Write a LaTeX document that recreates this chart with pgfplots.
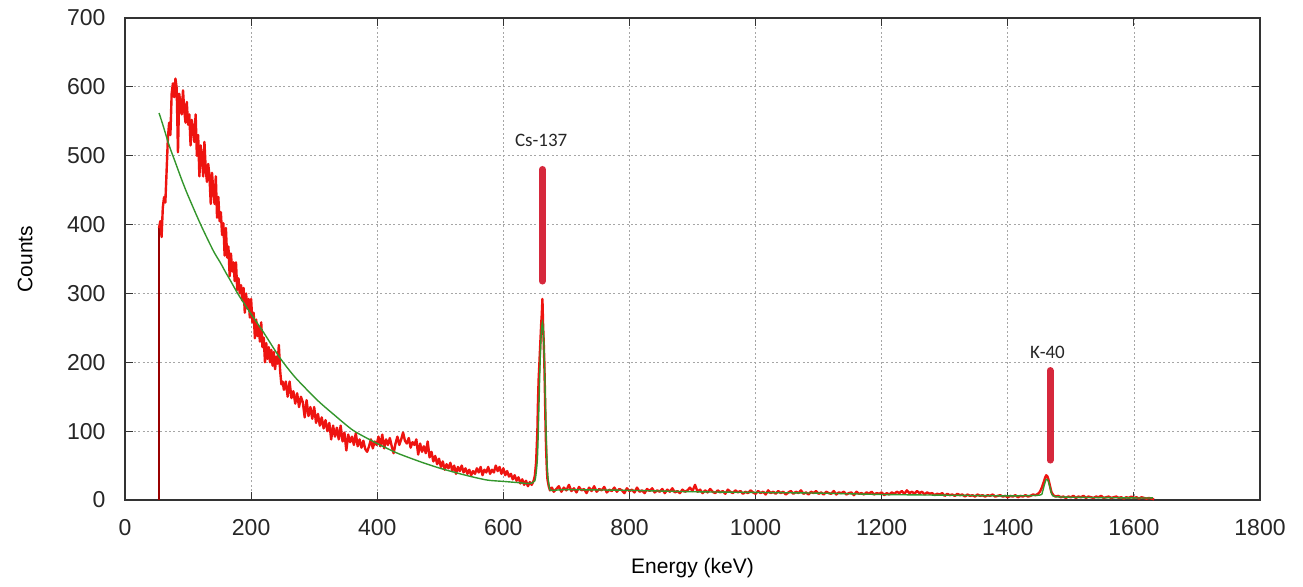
\documentclass[border=0pt]{standalone}
\usepackage{fontspec}
\setmainfont{Liberation Sans}
\newfontfamily\annfont{Carlito}
\usepackage{pgfplots}
\pgfplotsset{compat=1.18}
\usepackage{pgfplotstable}
\usetikzlibrary{calc}
\definecolor{spec}{RGB}{238,20,16}
\definecolor{fitc}{RGB}{52,150,44}
\definecolor{barc}{RGB}{214,40,60}

% measured spectrum (energy keV, counts)
\pgfplotstableread{
x y
54 395
56 405
58 382
60 425
62 440
64 432
66 478
68 525
70 548
72 530
74 590
76 605
78 585
80 612
82 598
84 505
86 590
88 575
90 560
92 595
94 565
96 548
98 578
100 545
102 560
104 515
106 552
108 538
110 520
112 560
114 500
116 530
118 470
120 515
122 498
124 470
126 520
128 480
130 462
132 488
134 470
136 430
138 475
140 450
142 430
144 470
146 410
148 440
150 405
152 418
154 385
156 402
158 355
160 395
162 352
164 368
166 325
168 358
170 332
172 345
174 318
176 345
178 305
180 322
182 300
184 312
186 290
188 308
190 272
192 300
194 278
196 292
198 265
200 292
202 258
204 272
206 235
208 262
210 238
212 252
214 230
216 258
218 222
220 236
222 200
224 228
226 205
228 222
230 200
232 218
234 195
236 215
238 190
240 208
242 198
244 225
246 188
248 168
250 172
252 160
255 172
258 150
261 172
264 148
267 158
270 140
273 155
276 135
279 150
282 142
285 120
288 145
291 122
294 135
297 118
300 135
303 112
306 125
309 108
312 120
315 104
318 116
321 100
324 112
327 88
330 108
333 92
336 105
339 88
342 108
345 85
348 98
351 72
354 95
357 84
360 92
363 80
366 97
369 78
372 88
375 76
378 86
381 74
384 70
387 78
390 88
393 75
396 85
399 80
402 92
405 78
408 95
411 75
414 88
417 80
420 90
423 78
426 68
429 82
432 92
435 80
438 88
441 98
444 86
447 82
450 90
453 76
456 84
459 80
462 88
465 66
468 82
471 70
474 78
477 68
480 85
483 62
486 70
489 56
492 64
495 52
498 60
501 48
504 56
507 44
510 52
513 46
516 54
519 42
522 50
525 38
528 48
531 42
534 50
537 40
540 46
543 38
546 44
549 36
552 42
555 38
558 46
561 40
564 48
567 36
570 44
573 40
576 48
579 38
582 44
585 40
588 50
591 42
594 48
597 38
600 46
603 36
606 42
609 34
612 38
615 30
618 36
621 28
624 33
627 24
630 30
633 22
636 28
639 20
642 26
645 22
648 28
650 35
652 55
654 100
655 145
656 175
657 195
658 215
659 235
660 255
661 270
662 292
663 255
664 230
665 200
666 155
667 105
668 70
669 45
670 30
672 20
674 14
677 18
680 12
684 16
688 20
692 12
696 18
700 14
704 22
708 13
712 17
716 11
720 19
724 14
728 16
732 10
736 18
740 13
744 20
748 12
752 16
756 14
760 19
764 11
768 15
772 13
776 18
780 12
784 16
788 14
792 10
796 17
800 13
804 15
808 11
812 18
816 12
820 14
824 10
828 16
832 13
836 17
840 11
844 14
848 12
852 16
856 10
860 15
864 12
868 17
872 11
876 13
880 10
884 15
888 12
892 14
896 18
900 13
904 22
908 12
912 15
916 10
920 14
924 11
928 16
932 12
936 10
940 14
944 11
948 13
952 9
956 15
960 12
964 10
968 14
972 11
976 13
980 9
984 12
988 10
992 14
996 11
1000 9
1004 13
1008 10
1012 12
1016 8
1020 14
1024 10
1028 12
1032 9
1036 13
1040 10
1044 12
1048 8
1052 11
1056 13
1060 9
1064 12
1068 10
1072 14
1076 9
1080 11
1084 8
1088 12
1092 10
1096 13
1100 9
1104 11
1108 8
1112 12
1116 10
1120 9
1124 13
1128 8
1132 11
1136 10
1140 12
1144 8
1148 10
1152 11
1156 7
1160 12
1164 9
1168 10
1172 8
1176 11
1180 9
1184 12
1188 8
1192 10
1196 9
1200 11
1204 7
1208 10
1212 8
1216 11
1220 9
1224 12
1228 10
1232 13
1236 9
1240 14
1244 10
1248 12
1252 9
1256 13
1260 10
1264 12
1268 8
1272 11
1276 9
1280 10
1284 7
1288 9
1292 8
1296 10
1300 6
1304 9
1308 7
1312 8
1316 6
1320 9
1324 7
1328 8
1332 5
1336 8
1340 6
1344 7
1348 5
1352 8
1356 6
1360 7
1364 5
1368 7
1372 6
1376 8
1380 5
1384 6
1388 7
1392 5
1396 6
1400 4
1404 6
1408 5
1412 7
1416 4
1420 6
1424 5
1428 7
1432 5
1436 6
1440 8
1444 7
1448 9
1451 12
1454 18
1457 26
1459 32
1461 36
1463 34
1465 28
1467 20
1469 12
1472 7
1476 5
1480 6
1484 4
1488 5
1492 3
1496 5
1500 4
1504 6
1508 3
1512 5
1516 4
1520 6
1524 3
1528 5
1532 4
1536 3
1540 5
1544 4
1548 6
1552 3
1556 4
1560 5
1564 3
1568 4
1572 5
1576 3
1580 4
1584 2
1588 4
1592 3
1596 5
1600 3
1604 4
1608 2
1612 4
1616 3
1620 2
1624 3
1628 2
1632 1
}\spectrum

% fitted curve
\pgfplotstableread{
x y
54 562
60 545
70 515
80 490
90 465
100 442
120 400
140 362
151 345
160 330
167 319
180 298
200 270
220 243
246 206
270 178
305 145
330 125
362 101
400 82
432 68
470 55
500 46
540 36
574 29
600 27
627 25
640 24
650 28
654 60
656 120
658 190
660 240
662 258
664 235
666 170
668 90
670 40
673 18
676 14
700 15
800 14
900 12
1000 11
1100 10
1200 8
1300 7
1400 6
1450 7
1455 12
1458 22
1461 30
1464 28
1467 18
1470 8
1475 5
1500 4
1600 3
1630 3
}\fitcurve

\begin{document}
\begin{tikzpicture}
\begin{axis}[
  scale only axis,
  width=567.5pt, height=241pt,
  xmin=0, xmax=1800, ymin=0, ymax=700,
  xtick={0,200,...,1800},
  ytick={0,100,...,700},
  xtick pos=both, ytick pos=both,
  tick align=inside,
  major tick length=4pt,
  tick style={black!80, line width=0.5pt},
  axis line style={black!80, line width=0.6pt},
  grid=major,
  grid style={gray!70, line width=0.4pt, dash pattern=on 1pt off 1.2pt},
  /pgf/number format/assume math mode=true,
  /pgf/number format/set thousands separator={},
  ticklabel style={font=\fontsize{11.5}{13}\selectfont, text=black!85},
  xticklabel style={yshift=-6pt},
  yticklabel style={xshift=-6.2pt},
  xlabel={Energy (keV)},
  ylabel={Counts},
  xlabel style={font=\fontsize{10.5}{12}\selectfont, at={(axis description cs:0.5,-0.141)}, anchor=center},
  ylabel style={font=\fontsize{10.5}{12}\selectfont, at={(axis description cs:-0.088,0.5)}, anchor=center},
  clip=false,
]
\coordinate (bl) at (rel axis cs:0,0);
\coordinate (tr) at (rel axis cs:1,1);
\addplot[red!60!black, line width=0.6pt] coordinates {(54,0) (54,395)};
\addplot[spec, line width=1.2pt, line join=round] table[x=x, y=y] {\spectrum};
\addplot[fitc, line width=0.7pt, smooth, tension=0.4] table[x=x, y=y] {\fitcurve};
\addplot[barc, line width=3.5pt, line cap=round] coordinates {(662,318) (662,480)};
\addplot[barc, line width=3.5pt, line cap=round] coordinates {(1467,58) (1467,188)};
\node[font=\annfont\fontsize{9.5}{11}\selectfont, text=black!85] at (axis cs:660,522) {Cs-137};
\node[font=\annfont\fontsize{9.5}{11}\selectfont, text=black!85] at (axis cs:1463,215) {K-40};
\end{axis}
\path ($(bl)+(-62.5pt,-43.5pt)$) rectangle ($(tr)+(21.5pt,9pt)$);
\end{tikzpicture}
\end{document}
